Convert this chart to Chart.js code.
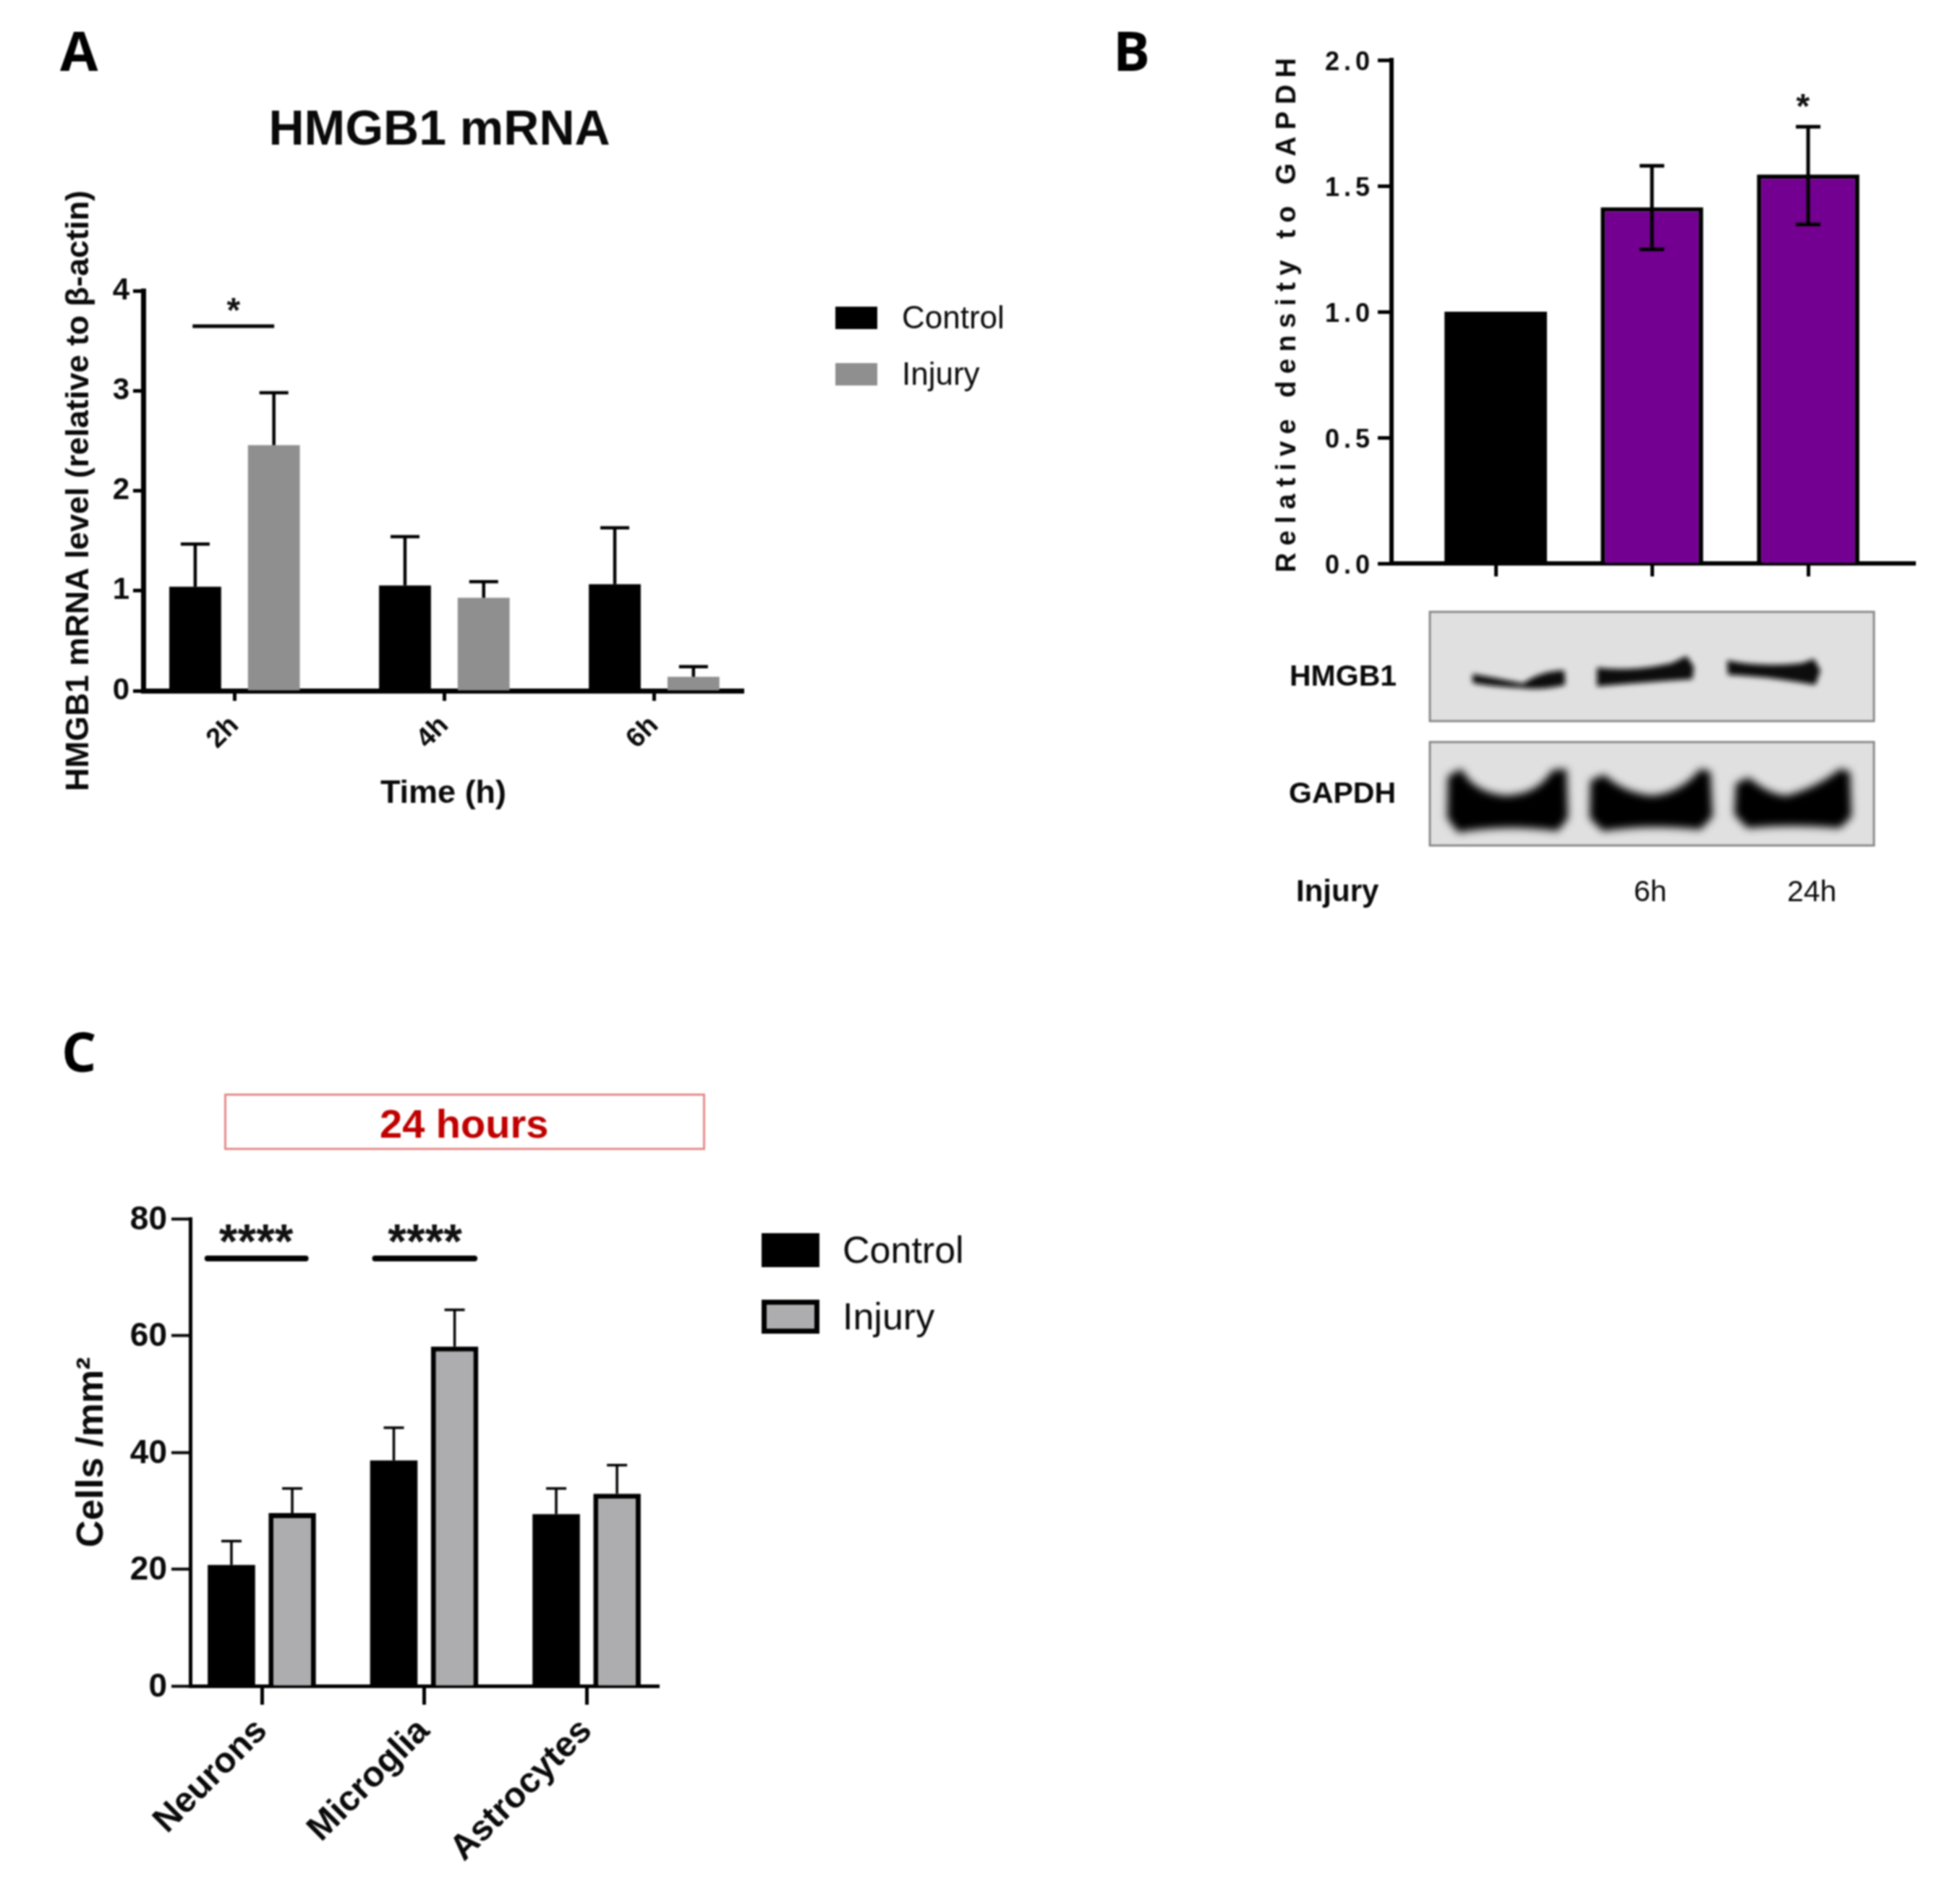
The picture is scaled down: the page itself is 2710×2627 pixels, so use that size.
<!DOCTYPE html>
<html><head><meta charset="utf-8">
<script src="https://cdn.jsdelivr.net/npm/chart.js@4"></script>
<style>
html,body{margin:0;padding:0;background:#fff}
#page{position:relative;width:2710px;height:2627px;overflow:hidden;background:#fff;filter:blur(1.3px)}
canvas{position:absolute}
.t{position:absolute;white-space:nowrap;color:#0a0a0a;font-family:"Liberation Sans";line-height:1;transform:translateY(-50%)}
.letter{font-family:"Open Sans";font-weight:700;font-size:76px;color:#000}
.sw{position:absolute;box-sizing:border-box}
svg{position:absolute;left:0;top:0}
</style></head><body><div id="page">
<canvas id="a"></canvas><canvas id="b"></canvas><canvas id="c"></canvas>
<svg width="2710" height="2627">
 <defs><filter id="bl" x="-20%" y="-50%" width="140%" height="200%"><feGaussianBlur stdDeviation="6"/></filter>
 <filter id="bl2" x="-20%" y="-50%" width="140%" height="200%"><feGaussianBlur stdDeviation="3.5"/></filter></defs>
 <g transform="translate(-4,-3)">
 <rect x="1981" y="849" width="614" height="151" fill="#e0e0e0" stroke="#8a8a8a" stroke-width="3"/>
 <rect x="1981" y="1029" width="614" height="143" fill="#e0e0e0" stroke="#8a8a8a" stroke-width="3"/>
 <g filter="url(#bl2)" fill="#0a0a0a">
  <path d="M2040 935 Q2060 938 2110 948 Q2135 930 2167 930 L2168 950 Q2135 958 2106 954 Q2060 952 2040 947Z"/>
  <path d="M2212 926 Q2260 932 2315 920 L2336 910 L2346 925 L2344 942 Q2280 946 2212 952Z"/>
  <path d="M2392 916 Q2440 926 2495 920 L2512 914 L2521 930 L2514 950 L2490 946 Q2440 938 2393 936Z"/>
 </g>
 <g filter="url(#bl)" fill="#000">
  <path d="M2006 1076 L2025 1066 Q2040 1098 2085 1103 Q2130 1102 2150 1068 L2170 1066 L2172 1134 L2158 1152 Q2085 1142 2020 1154 L2005 1134Z"/>
  <path d="M2203 1082 L2222 1074 Q2250 1100 2290 1103 Q2330 1098 2355 1066 L2369 1070 L2372 1132 L2355 1150 Q2285 1142 2220 1152 L2202 1134Z"/>
  <path d="M2404 1086 L2422 1078 Q2450 1102 2475 1103 Q2520 1090 2548 1066 L2562 1070 L2564 1132 L2548 1148 Q2480 1142 2420 1148 L2402 1129Z"/>
 </g>
 </g>
</svg>
<div class="t letter" style="left:83px;top:69px">A</div>
<div class="t letter" style="left:1539px;top:69px">B</div>
<div class="t letter" style="left:85px;top:1453px">C</div>
<div class="t" style="left:1783px;top:934px;font-size:41px;font-weight:700">HMGB1</div>
<div class="t" style="left:1782px;top:1096px;font-size:41px;font-weight:700">GAPDH</div>
<div class="t" style="left:1792px;top:1232px;font-size:42px;font-weight:700">Injury</div>
<div class="t" style="left:2259px;top:1232px;font-size:41px">6h</div>
<div class="t" style="left:2471px;top:1232px;font-size:41px">24h</div>
<div style="position:absolute;box-sizing:border-box;left:310px;top:1512px;width:665px;height:78px;border:3px solid #e58a8a"></div>
<div class="t" style="left:525px;top:1554px;font-size:56px;font-weight:700;color:#c00000">24 hours</div>
<div id="legends"></div>
</div>
<script>
// ---------- data ----------
const aCategories = ['2h','4h','6h'];
const aSeriesNames = ['Control','Injury'];
const aControl = [1.04,1.053,1.066];
const aInjury = [2.455,0.93,0.14];
const aControlErr = [1.467,1.54,1.63];
const aInjuryErr = [2.98,1.09,0.24];
const aYTicks = [0,1,2,3,4];

const bCategories = ['','6h','24h'];
const bValues = [1.0,1.415,1.545];
const bErrHigh = [null,1.58,1.735];
const bErrLow = [null,1.248,1.347];
const bYTicks = [0,0.5,1,1.5,2];

const cCategories = ['Neurons','Microglia','Astrocytes'];
const cSeriesNames = ['Control','Injury'];
const cControl = [20.7,38.6,29.4];
const cInjury = [29.6,58.1,32.9];
const cControlErr = [24.8,44.2,33.8];
const cInjuryErr = [33.8,64.4,37.8];
const cYTicks = [0,20,40,60,80];

const FONT = '"Liberation Sans"';
Chart.defaults.font.family = FONT;
Chart.defaults.color = '#0a0a0a';

function errorBars(id, series, cap, lw){
  return {id, afterDatasetsDraw(chart){
    const ctx = chart.ctx, y = chart.scales.y;
    ctx.save(); ctx.strokeStyle='#000'; ctx.lineWidth=lw;
    series.forEach((s,i)=>{
      chart.getDatasetMeta(i).data.forEach((el,j)=>{
        if(s.high[j]==null) return;
        const yh=y.getPixelForValue(s.high[j]);
        const yl=y.getPixelForValue(s.low[j]);
        ctx.beginPath();
        ctx.moveTo(el.x,yl); ctx.lineTo(el.x,yh);
        ctx.moveTo(el.x-cap/2,yh); ctx.lineTo(el.x+cap/2,yh);
        if(s.lowCap){ctx.moveTo(el.x-cap/2,yl); ctx.lineTo(el.x+cap/2,yl);}
        ctx.stroke();
      });
    });
    ctx.restore();
  }};
}
function signif(id, items, opt){
  return {id, afterDatasetsDraw(chart){
    const ctx=chart.ctx, xs=chart.scales.x, ys=chart.scales.y;
    ctx.save();
    items.forEach(it=>{
      if(it.from!=null){
        ctx.strokeStyle='#000'; ctx.lineWidth=opt.lw; ctx.lineCap=opt.capStyle||'butt';
        ctx.beginPath();
        ctx.moveTo(xs.getPixelForValue(it.from),ys.getPixelForValue(it.lineY));
        ctx.lineTo(xs.getPixelForValue(it.to),ys.getPixelForValue(it.lineY));
        ctx.stroke();
      }
      ctx.fillStyle='#111'; ctx.font=opt.font; ctx.textAlign='center'; ctx.textBaseline='alphabetic';
      ctx.fillText(it.text,xs.getPixelForValue(it.at),ys.getPixelForValue(it.textY));
    });
    ctx.restore();
  }};
}
function build(id, cfg){
  const {rect,area,yw,xh}=cfg;
  const cv=document.getElementById(id);
  cv.width=rect.R-rect.L; cv.height=rect.B-rect.T;
  cv.style.left=rect.L+'px'; cv.style.top=rect.T+'px';
  const titleH = cfg.title ? cfg.title.h : 0;
  const cats=cfg.categories;
  const ticks=cfg.yTicks;
  return new Chart(cv,{
    type:'bar',
    data:{datasets:cfg.datasets},
    plugins:cfg.plugins,
    options:{
      responsive:false, animation:false, devicePixelRatio:1,
      categoryPercentage:cfg.cp, barPercentage:cfg.bp,
      layout:{autoPadding:false,padding:{
        left:area.L-rect.L-yw, top:area.T-rect.T-titleH,
        right:rect.R-area.R, bottom:rect.B-area.B-xh}},
      plugins:{legend:{display:false},tooltip:{enabled:false},
        title:cfg.title?cfg.title.opts:{display:false}},
      scales:{
        x:{type:'linear',offset:false,min:cfg.xMin,max:cfg.xMax,
          afterBuildTicks(s){s.ticks=cats.map((_,i)=>({value:i}));},
          afterFit(s){s.height=xh;},
          grid:{display:true,offset:false,drawOnChartArea:false,drawTicks:true,tickLength:cfg.xTickLen,tickWidth:cfg.xTickW,tickColor:'#000'},
          border:{display:true,width:cfg.axisW,color:'#000'},
          ticks:{display:cfg.xLabels!==false,autoSkip:false,includeBounds:false,minRotation:cfg.xRot,maxRotation:cfg.xRot,padding:cfg.xPad,
            color:'#0a0a0a',font:cfg.xFont,callback:v=>cats[v]},
          title:cfg.xTitle||{display:false}},
        y:{min:ticks[0],max:ticks[ticks.length-1],
          afterBuildTicks(s){s.ticks=ticks.map(v=>({value:v}));},
          afterFit(s){s.width=yw;},
          grid:{display:true,drawOnChartArea:false,drawTicks:true,tickLength:cfg.yTickLen,tickWidth:cfg.yTickW,tickColor:'#000'},
          border:{display:true,width:cfg.axisW,color:'#000'},
          ticks:{padding:cfg.yPad,labelOffset:cfg.yLabelOffset||0,color:'#0a0a0a',font:cfg.yFont,callback:cfg.yFmt||(v=>v)},
          title:cfg.yTitle}
      }
    }
  });
}
const pts=a=>a.map((y,x)=>({x,y}));

// ---------- panel A ----------
const titleShift={id:'titleShift',afterLayout(chart){chart.titleBlock.left+=52;chart.titleBlock.right+=52;}};
const chartA=build('a',{
  rect:{L:0,T:90,R:1220,B:1160}, area:{L:198,T:402,R:1028,B:955}, yw:115, xh:170,
  categories:aCategories, yTicks:aYTicks, xMin:-0.4354, xMax:2.426, cp:0.75, bp:0.66,
  axisW:7, xTickLen:14, xTickW:5, yTickLen:14, yTickW:5, xRot:45, xPad:12, yPad:5,
  xFont:{size:38,weight:'bold'}, yFont:{size:42,weight:'bold'},
  title:{h:312,opts:{display:true,text:'HMGB1 mRNA',font:{size:68,weight:'bold'},color:'#0a0a0a',padding:{top:50,bottom:180.4}}},
  xTitle:{display:true,text:'Time (h)',font:{size:45,weight:'bold'},color:'#0a0a0a',padding:0},
  yTitle:{display:true,text:'HMGB1 mRNA level (relative to β-actin)',font:{size:44.5,weight:'bold'},color:'#0a0a0a',padding:0},
  datasets:[
    {label:aSeriesNames[0],data:pts(aControl),backgroundColor:'#000'},
    {label:aSeriesNames[1],data:pts(aInjury),backgroundColor:'#8f8f8f'}],
  plugins:[titleShift,
    errorBars('errA',[{high:aControlErr,low:aControl},{high:aInjuryErr,low:aInjury}],40,4.5),
    signif('sigA',[{from:-0.2,to:0.189,lineY:3.646,at:-0.005,textY:3.69,text:'*'}],{lw:5,font:'bold 48px '+FONT})]
});

// ---------- panel B ----------
const spacing={
  id:'spacing',
  afterLayout(chart){
    const s=chart.scales.y;
    if(s._patched) return; s._patched=true;
    const orig=s.drawTitle.bind(s);
    s.drawTitle=function(){chart.ctx.letterSpacing='9.5px';orig();chart.ctx.letterSpacing='6px';};
  },
  beforeDraw(chart){chart.ctx.letterSpacing='6px';}
};
const chartB=build('b',{
  rect:{L:1700,T:30,R:2700,B:840}, area:{L:1924,T:83,R:2648,B:779}, yw:166, xh:40,
  categories:bCategories, yTicks:bYTicks, xMin:-0.667, xMax:2.685, cp:1, bp:0.656,
  axisW:6, xTickLen:18, xTickW:5, yTickLen:19, yTickW:5, xRot:0, xPad:0, yPad:5, yLabelOffset:4, xLabels:false,
  xFont:{size:30,weight:'bold'}, yFont:{size:36,weight:'bold'},
  yFmt:v=>v.toFixed(1),
  yTitle:{display:true,text:'Relative density to GAPDH',font:{size:38,weight:'bold'},color:'#0a0a0a',padding:0},
  datasets:[{label:'Relative density',data:pts(bValues),
    backgroundColor:['#000','#730091','#730091'],borderColor:'#000',borderWidth:[0,6,6]}],
  plugins:[spacing,
    errorBars('errB',[{high:bErrHigh,low:bErrLow,lowCap:true}],34,5),
    signif('sigB',[{at:1.98,textY:1.77,text:'*'}],{font:'bold 48px '+FONT})]
});

// ---------- panel C ----------
const chartC=build('c',{
  rect:{L:0,T:1620,R:1020,B:2627}, area:{L:263,T:1685,R:911,B:2331}, yw:167, xh:280,
  categories:cCategories, yTicks:cYTicks, xMin:-0.441, xMax:2.445, cp:0.749, bp:0.78,
  axisW:5, xTickLen:26, xTickW:5, yTickLen:26, yTickW:4, xRot:45, xPad:8, yPad:6, yLabelOffset:2,
  xFont:{size:49,weight:'bold'}, yFont:{size:46,weight:'bold'},
  yTitle:{display:true,text:'Cells /mm²',font:{size:52,weight:'bold'},color:'#0a0a0a',padding:0},
  datasets:[
    {label:cSeriesNames[0],data:pts(cControl),backgroundColor:'#000'},
    {label:cSeriesNames[1],data:pts(cInjury),backgroundColor:'#adadaf',borderColor:'#000',borderWidth:7}],
  plugins:[
    errorBars('errC',[{high:cControlErr,low:cControl},{high:cInjuryErr,low:cInjury}],28,3.5),
    signif('sigC',[
      {from:-0.335,to:0.27,lineY:73.2,at:-0.035,textY:73.3,text:'****'},
      {from:0.697,to:1.31,lineY:73.2,at:1.005,textY:73.3,text:'****'}],
      {lw:8,capStyle:'round',font:'bold 66px '+FONT})]
});

// ---------- legends ----------
function legend(chart,o){
  const host=document.getElementById('legends');
  chart.data.datasets.forEach((d,i)=>{
    const cy=o.cy[i];
    const sw=document.createElement('div'); sw.className='sw';
    sw.style.cssText+=`left:${o.x}px;top:${cy-o.h/2}px;width:${o.w}px;height:${o.h}px;background:${d.backgroundColor};`+
      (d.borderWidth?`border:${d.borderWidth}px solid ${d.borderColor};`:'');
    host.appendChild(sw);
    const t=document.createElement('div'); t.className='t'; t.textContent=d.label;
    t.style.cssText+=`left:${o.tx}px;top:${cy}px;font-size:${o.fs}px;`;
    host.appendChild(t);
  });
}
legend(chartA,{x:1155,w:58,h:31,tx:1247,fs:44,cy:[439,517]});
legend(chartC,{x:1053,w:80,h:47,tx:1165,fs:52,cy:[1728,1820]});
</script></body></html>
